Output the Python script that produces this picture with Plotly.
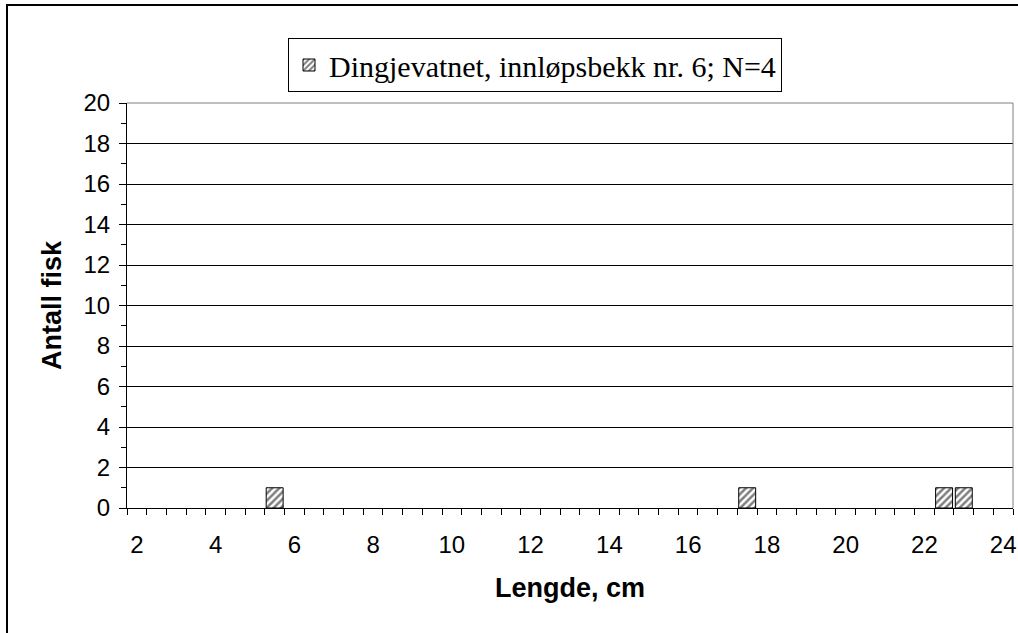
import plotly.graph_objects as go

# Data
lengths = [5.5, 17.5, 22.5, 23.0]          # cm (category centre)
counts = [1, 1, 1, 1]                       # Antall fisk
x_tick_vals = [2, 4, 6, 8, 10, 12, 14, 16, 18, 20, 22, 24]
x_tick_text = ["2", "4", "6", "8", "10", "12", "14", "16", "18", "20", "22", "24"]
y_tick_vals = [0, 2, 4, 6, 8, 10, 12, 14, 16, 18, 20]
series_name = "Dingjevatnet, innløpsbekk nr. 6; N=4"

W, H = 1018, 633
L, R, T, B = 127, 5, 103, 125
pw, ph = W - L - R, H - T - B

fig = go.Figure()
fig.add_trace(go.Bar(
    x=lengths, y=counts, name=series_name, width=0.43,
    marker=dict(color="white",
                line=dict(color="black", width=1),
                pattern=dict(shape="/", fgcolor="black", bgcolor="white",
                             size=5, solidity=0.5)),
    showlegend=True,
))

fig.update_layout(
    width=W, height=H,
    margin=dict(l=L, r=R, t=T, b=B, autoexpand=False),
    paper_bgcolor="white", plot_bgcolor="white",
    font=dict(family="Liberation Sans, Arial", size=24, color="black"),
    showlegend=True,
    legend=dict(
        x=(535 - L) / pw, xanchor="center",
        y=1 + (T - 38) / ph, yanchor="top",
        font=dict(family="Liberation Serif, Times New Roman", size=30, color="black"),
        bordercolor="black", borderwidth=1, bgcolor="white",
        itemwidth=30,
    ),
    xaxis=dict(
        range=[1.75, 24.25], tickvals=x_tick_vals, ticktext=x_tick_text,
        ticks="outside", ticklen=15, tickcolor="rgba(0,0,0,0)",
        showline=True, linecolor="black", linewidth=1,
        showgrid=False, zeroline=False,
        minor=dict(tick0=1.75, dtick=0.5, ticks="outside", ticklen=6,
                   tickcolor="black", tickwidth=1, showgrid=False),
        title=dict(text="<b>Lengde, cm</b>", font=dict(size=27), standoff=21),
        fixedrange=True,
    ),
    yaxis=dict(
        range=[0, 20], tickvals=y_tick_vals,
        ticks="outside", ticklen=7, tickcolor="black", tickwidth=1,
        ticklabelstandoff=4,
        showline=True, linecolor="black", linewidth=1,
        showgrid=True, gridcolor="black", gridwidth=1, zeroline=False,
        minor=dict(dtick=1, tick0=0, ticks="outside", ticklen=5,
                   tickcolor="black", tickwidth=1, showgrid=False),
        title=dict(text="<b>Antall fisk</b>", font=dict(size=27), standoff=14),
        fixedrange=True,
    ),
    shapes=[
        # outer chart frame (left + top visible)
        dict(type="rect", xref="paper", yref="paper",
             x0=(7 - L) / pw, x1=1.2, y0=-0.6, y1=(H - B - 5) / ph,
             line=dict(color="black", width=2), layer="below"),
        # plot-area border top/right (grey)
        dict(type="line", xref="paper", yref="paper", x0=0, x1=1, y0=1, y1=1,
             line=dict(color="#808080", width=1)),
        dict(type="line", xref="paper", yref="paper", x0=1, x1=1, y0=0, y1=1,
             line=dict(color="#808080", width=1)),
    ],
)

fig.write_html("out.html",
               config={"displayModeBar": False},
               post_script="document.body.style.margin='0';document.body.style.overflow='hidden';")
